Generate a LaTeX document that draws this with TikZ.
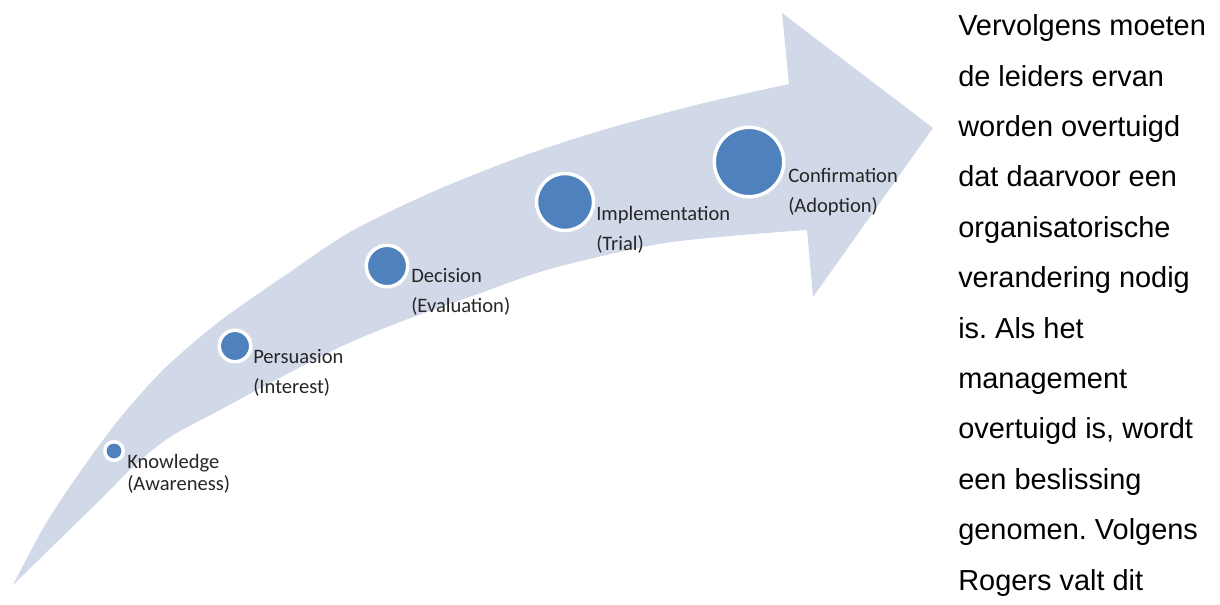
\documentclass[tikz,border=0pt]{standalone}
\usepackage{fontspec}
\setmainfont{Liberation Sans}
\newfontfamily\labelfont{Carlito}
\frenchspacing
\definecolor{arrowfill}{RGB}{209,217,232}
\definecolor{stageblue}{RGB}{79,129,189}
\definecolor{labelgray}{RGB}{38,38,38}
\begin{document}
\begin{tikzpicture}[x=0.75pt,y=-0.75pt,
  stage/.style={circle, fill=stageblue, draw=white, line width=2.6pt, inner sep=0pt},
  % labels are placed by the baseline of their last line
  stagelabel/.style={anchor=base west, inner sep=0pt, align=left, text=labelgray,
    font=\labelfont\fontsize{15.4}{22.5}\selectfont},
  bodytext/.style={anchor=base west, inner sep=0pt, align=left, text=black,
    font=\fontsize{21.7}{37.8}\selectfont}]
\useasboundingbox (0,0) rectangle (1220,604);

% curved arrow: upper edge, head, lower edge back to the tail
\fill[arrowfill]
  plot[smooth] coordinates {(13,585) (45,525) (80,472) (120,418) (165,368) (220,321)
    (290,272) (350,232) (430,193) (520,157) (603,130) (700,104) (789,84)}
  -- (782,13) -- (933,128) -- (813,297)
  -- plot[smooth] coordinates {(807,230) (730,236) (653,245) (550,269) (475,295)
    (400,322) (340,347) (270,383) (220,410) (170,437) (135,465) (100,500) (60,539) (13,585)}
  -- cycle;

% stages
\node[stage, minimum size=13.9pt] (know) at (114,451) {};
\node[stage, minimum size=23.6pt] (pers) at (235,346) {};
\node[stage, minimum size=31.1pt] (deci) at (387,266) {};
\node[stage, minimum size=42.75pt] (impl) at (565,202) {};
\node[stage, minimum size=52.1pt] (conf) at (749,162) {};

\node[stagelabel, font=\labelfont\fontsize{15.4}{16.5}\selectfont] (knowlbl) at (127,490) {Knowledge\\(Awareness)};
\node[stagelabel] (perslbl) at (253,393) {Persuasion\\(Interest)};
\node[stagelabel] (decilbl) at (411,312) {Decision\\(Evaluation)};
\node[stagelabel] (impllbl) at (596,250) {Implementation\\(Trial)};
\node[stagelabel] (conflbl) at (788,212) {Confirmation\\(Adoption)};

% running text beside the figure
\node[bodytext] (body) at (958,590) {Vervolgens moeten\\de leiders ervan\\worden overtuigd\\dat daarvoor een\\organisatorische\\verandering nodig\\is. Als het\\management\\overtuigd is, wordt\\een beslissing\\genomen. Volgens\\Rogers valt dit};
\end{tikzpicture}
\end{document}
